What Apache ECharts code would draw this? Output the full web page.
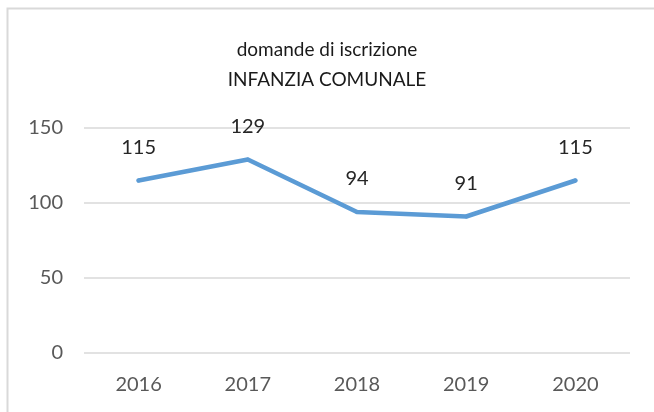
<!DOCTYPE html>
<html>
<head>
<meta charset="utf-8">
<script src="https://cdn.jsdelivr.net/npm/echarts@6/dist/echarts.min.js"></script>
<style>
  html, body { margin: 0; padding: 0; background: #fff; }
  #chart { width: 654px; height: 412px; }
</style>
</head>
<body>
<div id="chart"></div>
<script>
var years = ['2016', '2017', '2018', '2019', '2020']
var domande = [115, 129, 94, 91, 115]
var titleLines = ['domande di iscrizione', 'INFANZIA COMUNALE']

var chart = echarts.init(document.getElementById('chart'))
chart.setOption({
  animation: false,
  title: {
    text: titleLines.join('\n'),
    left: 'center',
    top: 30,
    textStyle: {
      fontFamily: 'Lato',
      fontWeight: 'normal',
      fontSize: 19,
      lineHeight: 30,
      color: '#1a1a1a'
    }
  },
  graphic: [{
    type: 'rect',
    shape: { x: 7.5, y: 8.5, width: 700, height: 420 },
    style: { fill: 'none', stroke: '#d9d9d9', lineWidth: 2 },
    silent: true
  }],
  grid: { left: 84, right: 24, top: 128, bottom: 59 },
  xAxis: {
    type: 'category',
    data: years,
    boundaryGap: true,
    axisLine: { show: false },
    axisTick: { show: false },
    axisLabel: { margin: 22, fontFamily: 'Lato', fontSize: 20, color: '#595959' }
  },
  yAxis: {
    type: 'value',
    min: 0,
    max: 150,
    interval: 50,
    axisLabel: { margin: 21, fontFamily: 'Lato', fontSize: 20, color: '#595959' },
    splitLine: { lineStyle: { color: '#d9d9d9', width: 1.5 } }
  },
  series: [{
    type: 'line',
    data: domande,
    symbol: 'circle',
    symbolSize: 4,
    showSymbol: true,
    itemStyle: { color: '#5b9bd5' },
    lineStyle: { color: '#5b9bd5', width: 4.5, cap: 'round', join: 'round' },
    label: {
      show: true,
      position: 'top',
      distance: 21,
      fontFamily: 'Lato',
      fontSize: 20,
      color: '#262626'
    }
  }]
})
</script>
</body>
</html>
